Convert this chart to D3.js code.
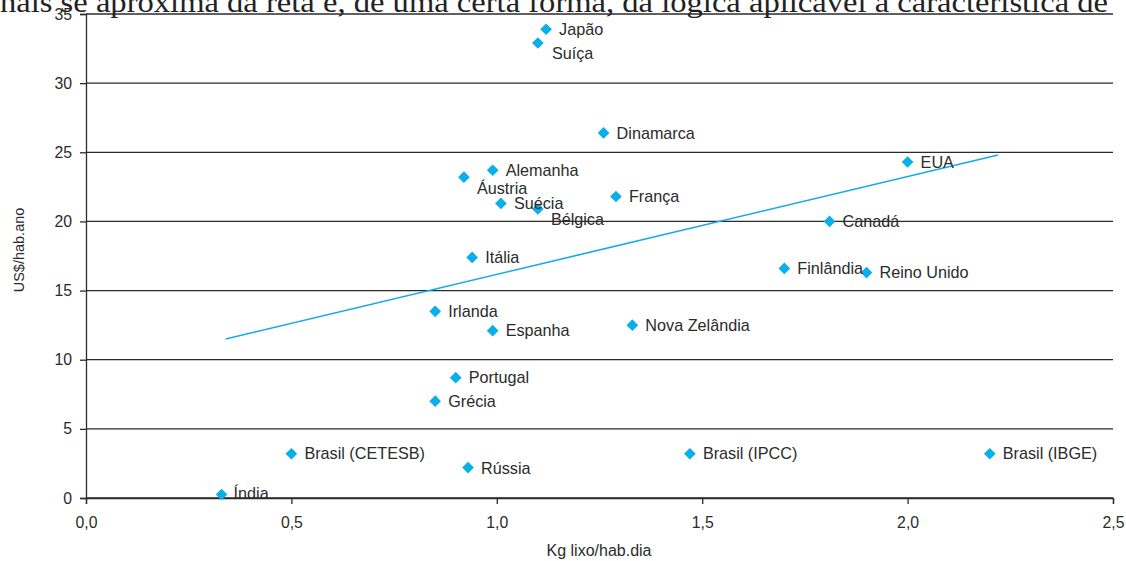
<!DOCTYPE html>
<html>
<head>
<meta charset="utf-8">
<script src="https://cdn.jsdelivr.net/npm/d3@7"></script>
<style>
  body { margin: 0; background: #fff; }
  svg { display: block; }
</style>
</head>
<body>
<svg id="chart" width="1126" height="561"></svg>
<script>
// data
const countries = ["Japão", "Suíça", "Dinamarca", "EUA", "Alemanha", "Áustria", "França", "Suécia",
  "Bélgica", "Canadá", "Itália", "Finlândia", "Reino Unido", "Irlanda", "Espanha", "Nova Zelândia",
  "Portugal", "Grécia", "Brasil (CETESB)", "Rússia", "Brasil (IPCC)", "Brasil (IBGE)", "Índia"];
const kgPerDay = [1.12, 1.10, 1.26, 2.00, 0.99, 0.92, 1.29, 1.01,
  1.10, 1.81, 0.94, 1.70, 1.90, 0.85, 0.99, 1.33,
  0.90, 0.85, 0.50, 0.93, 1.47, 2.20, 0.33];
const usdPerYear = [33.9, 32.9, 26.4, 24.3, 23.7, 23.2, 21.8, 21.3,
  20.9, 20.0, 17.4, 16.6, 16.3, 13.5, 12.1, 12.5,
  8.7, 7.0, 3.2, 2.2, 3.2, 3.2, 0.25];
const trendX = [0.34, 2.22];
const trendY = [11.5, 24.8];
const xTicks = [0, 0.5, 1.0, 1.5, 2.0, 2.5];
const yTicks = [0, 5, 10, 15, 20, 25, 30, 35];

// label placement tweaks (style only)
const labelShift = {
  "Suíça": [14, 10], "Áustria": [13, 11], "Bélgica": [13, 10], "Rússia": [13, 1], "Índia": [12, -1]
};

const svg = d3.select("#chart");
const margin = { top: 14, right: 13, bottom: 63, left: 86 };
const width = 1126 - margin.left - margin.right;
const height = 561 - margin.top - margin.bottom;
const font = "Liberation Sans, Arial, sans-serif";

const x = d3.scaleLinear().domain([0, 2.5]).range([0, width]);
const y = d3.scaleLinear().domain([0, 35]).range([height, 0]);

const g = svg.append("g").attr("transform", `translate(${margin.left},${margin.top})`);

// gridlines
g.append("g")
  .selectAll("line")
  .data(yTicks)
  .join("line")
  .attr("x1", 0).attr("x2", width)
  .attr("y1", d => y(d)).attr("y2", d => y(d))
  .attr("stroke", "#2b2b2b")
  .attr("stroke-width", 1.3);

const fmt = d => d.toFixed(1).replace(".", ",");

const xAxis = g.append("g")
  .attr("transform", `translate(0,${height})`)
  .call(d3.axisBottom(x).tickValues(xTicks).tickFormat(fmt).tickSize(6).tickPadding(13));
const yAxis = g.append("g")
  .call(d3.axisLeft(y).tickValues(yTicks).tickSize(6).tickPadding(8));

[xAxis, yAxis].forEach(ax => {
  ax.select(".domain").attr("stroke", "#2b2b2b").attr("stroke-width", 1.3);
  ax.selectAll(".tick line").attr("stroke", "#2b2b2b").attr("stroke-width", 1.3);
  ax.selectAll("text")
    .attr("font-family", font)
    .attr("font-size", 15.8)
    .attr("fill", "#2b2b2b");
});

// trend line
g.append("path")
  .datum(trendX.map((d, i) => [d, trendY[i]]))
  .attr("d", d3.line().x(d => x(d[0])).y(d => y(d[1])))
  .attr("fill", "none")
  .attr("stroke", "#14aaea")
  .attr("stroke-width", 1.6);

const points = countries.map((c, i) => ({ name: c, kg: kgPerDay[i], usd: usdPerYear[i] }));

g.append("g")
  .selectAll("path")
  .data(points)
  .join("path")
  .attr("d", d3.symbol(d3.symbolSquare, 68))
  .attr("transform", d => `translate(${x(d.kg)},${y(d.usd)}) rotate(45)`)
  .attr("fill", "#0aaeea");

g.append("g")
  .selectAll("text")
  .data(points)
  .join("text")
  .attr("x", d => x(d.kg) + (labelShift[d.name] ? labelShift[d.name][0] : 13))
  .attr("y", d => y(d.usd) + (labelShift[d.name] ? labelShift[d.name][1] : 0))
  .attr("dy", "0.35em")
  .attr("font-family", font)
  .attr("font-size", 16.2)
  .attr("fill", "#2b2b2b")
  .text(d => d.name);

// axis titles
svg.append("text")
  .attr("x", 599)
  .attr("y", 556)
  .attr("text-anchor", "middle")
  .attr("font-family", font)
  .attr("font-size", 16)
  .attr("fill", "#2b2b2b")
  .text("Kg lixo/hab.dia");

svg.append("text")
  .attr("transform", "translate(24,250) rotate(-90)")
  .attr("text-anchor", "middle")
  .attr("font-family", font)
  .attr("font-size", 14.5)
  .attr("fill", "#2b2b2b")
  .text("US$/hab.ano");

// clipped line of body text from the page above the chart
svg.append("text")
  .attr("x", 0)
  .attr("y", 12)
  .attr("font-family", "Liberation Serif, Times New Roman, serif")
  .attr("font-size", 29)
  .attr("fill", "#222")
  .attr("textLength", 1108)
  .attr("lengthAdjust", "spacingAndGlyphs")
  .text("nais se aproxima da reta e, de uma certa forma, da lógica aplicável à característica de");
</script>
</body>
</html>
